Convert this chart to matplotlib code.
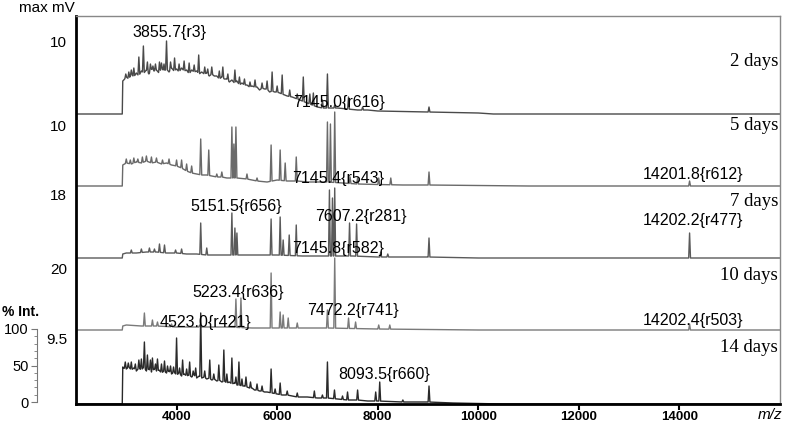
import numpy as np
import matplotlib
matplotlib.use("Agg")
from matplotlib import pyplot as plt

# ---- data (m/z, intensity in panel units above each baseline) ----
days = ["2 days", "5 days", "7 days", "10 days", "14 days"]
scale_max = ["10", "10", "18", "20", "9.5"]

env2_mz = [2000, 2920, 2930, 2950, 3000, 3050, 3100, 3150, 3200, 3250, 3300, 3350, 3400, 3450,
           3500, 3550, 3600, 3650, 3700, 3750, 3800, 3850, 3900, 3950, 4000, 4050, 4100,
           4150, 4200, 4250, 4300, 4350, 4400, 4450, 4500, 4550, 4600, 4650, 4700, 4750,
           4800, 4850, 4900, 4950, 5000, 5050, 5100, 5150, 5200, 5250, 5300, 5350, 5400,
           5450, 5500, 5550, 5600, 5650, 5700, 5750, 5800, 5850, 5900, 5950, 6000, 6100,
           6200, 6300, 6400, 6500, 6600, 6700, 6800, 6900, 7000, 7200, 7400, 7600, 7800,
           8000, 8500, 9000, 9500, 10000, 10300, 16000]
env2_h = [0, 0, 33, 34, 37, 35, 40, 37, 41, 38, 43, 41, 44, 40, 45, 43, 44, 41, 46, 43, 45,
          42, 46, 43, 45, 42, 46, 43, 44, 40, 44, 42, 43, 40, 42, 40, 41, 38, 40, 38, 38,
          35, 37, 35, 35, 32, 34, 31, 33, 29, 31, 29, 29, 27, 28, 27, 27, 24, 26, 25, 25,
          22, 23, 22, 22, 20, 18, 17, 15, 13, 11, 9, 7, 6, 6, 6, 5, 4, 4, 3, 2.5, 2, 1.5,
          1, 0, 0]
pk2_mz = [2990, 3050, 3100, 3150, 3250, 3340, 3420, 3480, 3530, 3580, 3660, 3700, 3750, 3800,
          3880, 3960, 4050, 4150, 4250, 4350, 4440, 4560, 4620, 4700, 4850, 4920, 5020,
          5160, 5250, 5350, 5460, 5560, 5700, 5800, 5900, 6000, 6100, 6250, 6400, 6520,
          6650, 6720, 6900, 7000, 7145, 7420, 7700, 9020]
pk2_h = [40, 42, 44, 46, 57, 68, 52, 50, 48, 50, 52, 51, 50, 73, 52, 56, 50, 53, 51, 49, 59,
         47, 45, 47, 43, 47, 40, 44, 37, 35, 32, 34, 31, 33, 42, 28, 39, 24, 20, 37, 20, 21,
         14, 40, 9, 17, 7, 7]

env5_mz = [2000, 2920, 2930, 3000, 3100, 3200, 3300, 3400, 3500, 3600, 3700, 3800, 3900, 4000,
           4100, 4200, 4300, 4400, 4500, 4600, 4700, 4800, 4900, 5000, 5200, 5400, 5600,
           5800, 6000, 6200, 6400, 6600, 6800, 7000, 7300, 7600, 8000, 8500, 9000, 10000,
           11000, 16000]
env5_h = [0, 0, 21, 23, 22, 24, 23, 25, 23, 24, 22, 23, 21, 20, 18, 15, 13, 12, 11, 11, 10,
          9, 9, 8, 8, 7, 5, 4, 6, 5, 5, 4, 4, 4, 3, 2, 1.5, 1, 1, 0.5, 0, 0]
pk5_mz = [3000, 3080, 3150, 3230, 3320, 3400, 3500, 3600, 3720, 3850, 4000, 4100, 4200, 4300,
          4480, 4640, 4800, 4900, 5100, 5140, 5180, 5400, 5600, 5880, 6060, 6160, 6380,
          7000, 7060, 7145, 7450, 7600, 8020, 8260, 9020, 14202]
pk5_h = [27, 26, 28, 27, 29, 30, 29, 28, 26, 27, 26, 26, 22, 20, 47, 36, 12, 14, 59, 42, 59,
         12, 8, 41, 36, 23, 29, 64, 62, 74, 9, 8, 8, 8, 14, 5]

env7_mz = [2000, 2920, 2930, 3000, 3200, 3400, 3600, 3800, 4000, 4200, 4400, 4600, 5000,
           5500, 6000, 6500, 7000, 7500, 8000, 9000, 10000, 16000]
env7_h = [0, 0, 4, 5, 5, 6, 6, 5, 5, 4, 4, 3, 3, 3, 3, 2, 2, 2, 1, 1, 0, 0]
pk7_mz = [3100, 3300, 3460, 3560, 3660, 3760, 3980, 4100, 4480, 4600, 5100, 5160, 5200,
          5880, 6060, 6120, 6240, 6380, 7040, 7100, 7145, 7440, 7580, 8060, 8200, 9020,
          14202]
pk7_h = [8, 9, 10, 9, 14, 13, 8, 9, 35, 10, 45, 30, 25, 39, 41, 18, 23, 33, 68, 60, 70, 35,
         34, 6, 4, 20, 25]

env10_mz = [2000, 2920, 2930, 3000, 3300, 3600, 4000, 4500, 5000, 5500, 6000, 7000, 8000,
            9000, 10000, 16000]
env10_h = [0, 0, 4, 5, 4, 4, 3, 3, 3, 2, 2, 2, 1, 0.5, 0, 0]
pk10_mz = [3360, 3520, 3620, 3900, 4460, 5180, 5280, 5880, 6060, 6120, 6220, 6400, 7000,
           7145, 7420, 7560, 8020, 8240, 14202]
pk10_h = [17, 10, 8, 6, 5, 31, 32, 57, 18, 15, 12, 7, 20, 72, 12, 8, 5, 5, 6]

env14_mz = [2000, 2920, 2930, 2950, 3000, 3050, 3100, 3150, 3200, 3250, 3300, 3350, 3400,
            3450, 3500, 3550, 3600, 3650, 3700, 3750, 3800, 3850, 3900, 3950, 4000, 4050,
            4100, 4150, 4200, 4250, 4300, 4350, 4400, 4450, 4500, 4550, 4600, 4650, 4700,
            4750, 4800, 4850, 4900, 4950, 5000, 5050, 5100, 5150, 5200, 5250, 5300, 5350,
            5400, 5450, 5500, 5550, 5600, 5650, 5700, 5750, 5800, 5900, 6000, 6100, 6200,
            6300, 6400, 6600, 6800, 7000, 7200, 7400, 7600, 7800, 8000, 8500, 9000, 9500,
            10000, 10500, 16000]
env14_h = [0, 0, 37, 36, 35, 37, 34, 36, 33, 36, 34, 37, 33, 35, 32, 35, 33, 34, 31, 33, 31,
           33, 30, 32, 29, 31, 28, 30, 28, 29, 27, 29, 26, 28, 26, 27, 25, 26, 24, 25, 23,
           24, 22, 23, 21, 22, 20, 21, 19, 19, 18, 18, 17, 16, 16, 14, 14, 13, 13, 12, 12,
           11, 10, 9, 9, 8, 7, 7, 6, 6, 5, 4, 4, 3, 3, 2, 2, 1, 0.5, 0, 0]
pk14_mz = [2980, 3040, 3100, 3180, 3250, 3300, 3360, 3420, 3480, 3520, 3580, 3620, 3700, 3760,
           3820, 3880, 3940, 4000, 4060, 4120, 4200, 4260, 4330, 4380, 4480, 4560, 4660,
           4740, 4840, 4940, 5000, 5100, 5180, 5240, 5300, 5380, 5470, 5600, 5700, 5880,
           5960, 6060, 6200, 6400, 6740, 6900, 7000, 7140, 7300, 7400, 7600, 7960, 8040,
           8500, 9020]
pk14_h = [42, 41, 42, 40, 44, 45, 62, 49, 44, 46, 40, 45, 40, 43, 38, 38, 37, 66, 36, 44, 35,
          42, 33, 36, 91, 33, 44, 30, 39, 54, 30, 46, 27, 42, 25, 27, 22, 20, 18, 35, 15,
          21, 13, 11, 13, 9, 42, 14, 8, 12, 14, 12, 22, 4, 18]

peak_texts = ["3855.7{r3}", "7145.0{r616}", "7145.4{r543}", "14201.8{r612}",
              "5151.5{r656}", "7607.2{r281}", "7145.8{r582}", "14202.2{r477}",
              "5223.4{r636}", "7472.2{r741}", "4523.0{r421}", "14202.4{r503}",
              "8093.5{r660}"]
peak_text_xy = [(3120, 371), (6320, 301), (6300, 226), (13280, 230),
                (4280, 198), (6760, 188), (6300, 155), (13280, 184),
                (4320, 111), (6600, 93), (3660, 82), (13280, 83),
                (7220, 29)]

spectra = [(env2_mz, env2_h, pk2_mz, pk2_h),
           (env5_mz, env5_h, pk5_mz, pk5_h),
           (env7_mz, env7_h, pk7_mz, pk7_h),
           (env10_mz, env10_h, pk10_mz, pk10_h),
           (env14_mz, env14_h, pk14_mz, pk14_h)]
offsets = [290, 218, 146, 74, 0]
colors = ["#4a4a4a", "#6a6a6a", "#5a5a5a", "#7a7a7a", "#2a2a2a"]
day_y = [342, 278, 202, 129, 57]


def build_trace(emz, eh, pmz, ph, w=18):
    emz = np.array(emz, float)
    eh = np.array(eh, float)
    keep = np.ones(len(emz), bool)
    for m in pmz:
        keep &= ~((emz > m - w) & (emz < m + w))
    xs = list(emz[keep])
    ys = list(eh[keep])
    for m, h in zip(pmz, ph):
        xs += [m - w, m, m + w]
        ys += [np.interp(m - w, emz, eh), h, np.interp(m + w, emz, eh)]
    order = np.argsort(xs, kind="stable")
    return np.array(xs)[order], np.array(ys)[order]


fig = plt.figure(figsize=(7.88, 4.26), dpi=100)
ax = fig.add_axes([76 / 788, 22 / 426, 704 / 788, 388 / 426])

for (emz, eh, pmz, ph), off, c in zip(spectra, offsets, colors):
    x, y = build_trace(emz, eh, pmz, ph)
    ax.plot(x, y + off, color=c, lw=1.0)

for txt, (x, y) in zip(peak_texts, peak_text_xy):
    ax.text(x, y, txt, fontsize=11.5, family="Liberation Sans", ha="left", va="center")

for d, y in zip(days, day_y):
    ax.text(15960, y, d, fontsize=13.5, family="Liberation Serif", ha="right", va="center")

ax.set_xlim(2000, 16000)
ax.set_ylim(0, 388)
ax.set_yticks([])
ax.set_xticks([4000, 6000, 8000, 10000, 12000, 14000])
ax.tick_params(axis="x", direction="out", length=4, width=1.5, pad=1)
for lab in ax.get_xticklabels():
    lab.set_fontweight("bold")
    lab.set_family("Liberation Sans")
    lab.set_fontsize(9.5)
ax.spines["left"].set_linewidth(2)
ax.spines["bottom"].set_linewidth(2)
for s in ["top", "right"]:
    ax.spines[s].set_color("#888888")
    ax.spines[s].set_linewidth(1)

# left side labels
fig.text(75 / 788, 1 - 8 / 426, "max mV", fontsize=11, family="Liberation Sans",
         ha="right", va="center")
for lab, ypx in zip(scale_max, [43, 127, 196, 270, 340]):
    fig.text(67 / 788, 1 - ypx / 426, lab, fontsize=11, family="Liberation Sans",
             ha="right", va="center")
fig.text(2 / 788, 1 - 312 / 426, "% Int.", fontsize=10, fontweight="bold",
         family="Liberation Sans", ha="left", va="center")

# small % intensity scale
sax = fig.add_axes([37 / 788, (426 - 402) / 426, 1 / 788, 73 / 426])
sax.set_ylim(0, 100)
sax.set_xticks([])
sax.set_yticks([0, 50, 100])
sax.set_yticks(np.arange(0, 101, 10), minor=True)
sax.tick_params(axis="y", which="major", length=4, color="#777777", labelsize=10.5, pad=2)
sax.tick_params(axis="y", which="minor", length=2, color="#777777")
for lab in sax.get_yticklabels():
    lab.set_family("Liberation Sans")
for s in ["top", "right", "bottom"]:
    sax.spines[s].set_visible(False)
sax.spines["left"].set_color("#777777")
sax.patch.set_visible(False)

fig.text(770 / 788, 1 - 415 / 426, "m/z", fontsize=11, style="italic",
         family="Liberation Sans", ha="center", va="center")

fig.savefig("out.png", dpi=100)
